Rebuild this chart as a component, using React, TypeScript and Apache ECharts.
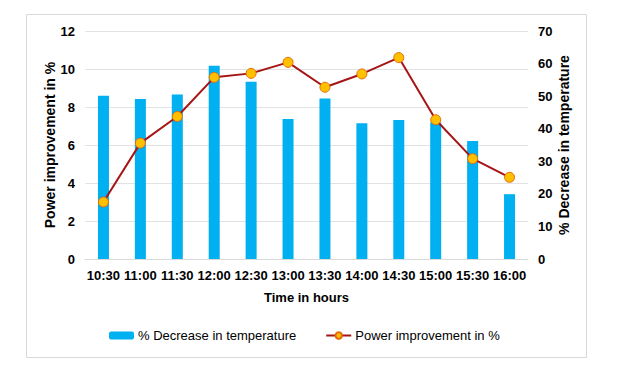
import React, { useEffect, useRef } from "react";
import * as echarts from "echarts";

const categories = ["10:30", "11:00", "11:30", "12:00", "12:30", "13:00", "13:30", "14:00", "14:30", "15:00", "15:30", "16:00"];
const tempDecrease = [50.1, 49.1, 50.5, 59.3, 54.4, 43.0, 49.3, 41.7, 42.7, 41.9, 36.2, 19.9];
const powerImprovement = [3.0, 6.1, 7.5, 9.56, 9.77, 10.35, 9.04, 9.74, 10.6, 7.33, 5.28, 4.3];

const FONT = "'Liberation Sans', Arial, sans-serif";

export default function App() {
  const ref = useRef<HTMLDivElement>(null);
  useEffect(() => {
    document.body.style.margin = "0";
    const chart = echarts.init(ref.current!, null, { renderer: "svg" });
    chart.setOption({
      animation: false,
      backgroundColor: "#ffffff",
      textStyle: { fontFamily: FONT },
      graphic: [
        {
          type: "rect",
          shape: { x: 26.5, y: 14.5, width: 560, height: 343 },
          style: { fill: "none", stroke: "#d9d9d9", lineWidth: 1 },
          silent: true,
        },
      ],
      grid: { left: 85, right: 104, top: 31, bottom: 109, containLabel: false, outerBoundsMode: "none" },
      legend: {
        left: 104,
        top: 324,
        itemWidth: 25,
        itemHeight: 8,
        itemGap: 29,
        textStyle: { fontFamily: FONT, fontSize: 13, color: "#000", padding: [0, 0, 0, -1] },
        data: ["% Decrease in temperature", "Power improvement in %"],
      },
      xAxis: {
        type: "category",
        data: categories,
        name: "Time in hours",
        nameLocation: "middle",
        nameGap: 32,
        nameMoveOverlap: false,
        nameTextStyle: { fontFamily: FONT, fontSize: 13, fontWeight: "bold", color: "#000" },
        axisTick: { show: false },
        axisLine: { lineStyle: { color: "#d9d9d9" } },
        axisLabel: { margin: 10, fontFamily: FONT, fontSize: 13, fontWeight: "bold", color: "#000", interval: 0 },
      },
      yAxis: [
        {
          type: "value",
          min: 0,
          max: 12,
          interval: 2,
          name: "Power improvement in %",
          nameLocation: "middle",
          nameGap: 28,
          nameMoveOverlap: false,
          nameTextStyle: { fontFamily: FONT, fontSize: 14, fontWeight: "bold", color: "#000" },
          axisLine: { show: false },
          axisTick: { show: false },
          axisLabel: { margin: 10, fontFamily: FONT, fontSize: 13, fontWeight: "bold", color: "#000" },
          splitLine: { lineStyle: { color: "#e2e2e2" } },
        },
        {
          type: "value",
          min: 0,
          max: 70,
          interval: 10,
          name: "% Decrease in temperature",
          nameLocation: "middle",
          nameGap: 29,
          nameMoveOverlap: false,
          nameTextStyle: { fontFamily: FONT, fontSize: 14, fontWeight: "bold", color: "#000" },
          axisLine: { show: false },
          axisTick: { show: false },
          axisLabel: { margin: 10, fontFamily: FONT, fontSize: 13, fontWeight: "bold", color: "#000" },
          splitLine: { show: false },
        },
      ],
      series: [
        {
          name: "% Decrease in temperature",
          type: "bar",
          yAxisIndex: 1,
          data: tempDecrease,
          barWidth: 11,
          itemStyle: { color: "#00b0f0" },
        },
        {
          name: "Power improvement in %",
          type: "line",
          yAxisIndex: 0,
          data: powerImprovement,
          symbol: "circle",
          symbolSize: 10,
          lineStyle: { color: "#a51515", width: 2 },
          itemStyle: { color: "#ffc000", borderColor: "#e46c0a", borderWidth: 1 },
          z: 3,
        },
      ],
    });
    return () => chart.dispose();
  }, []);
  return <div ref={ref} style={{ position: "fixed", left: 0, top: 0, width: 632, height: 368 }} />;
}
